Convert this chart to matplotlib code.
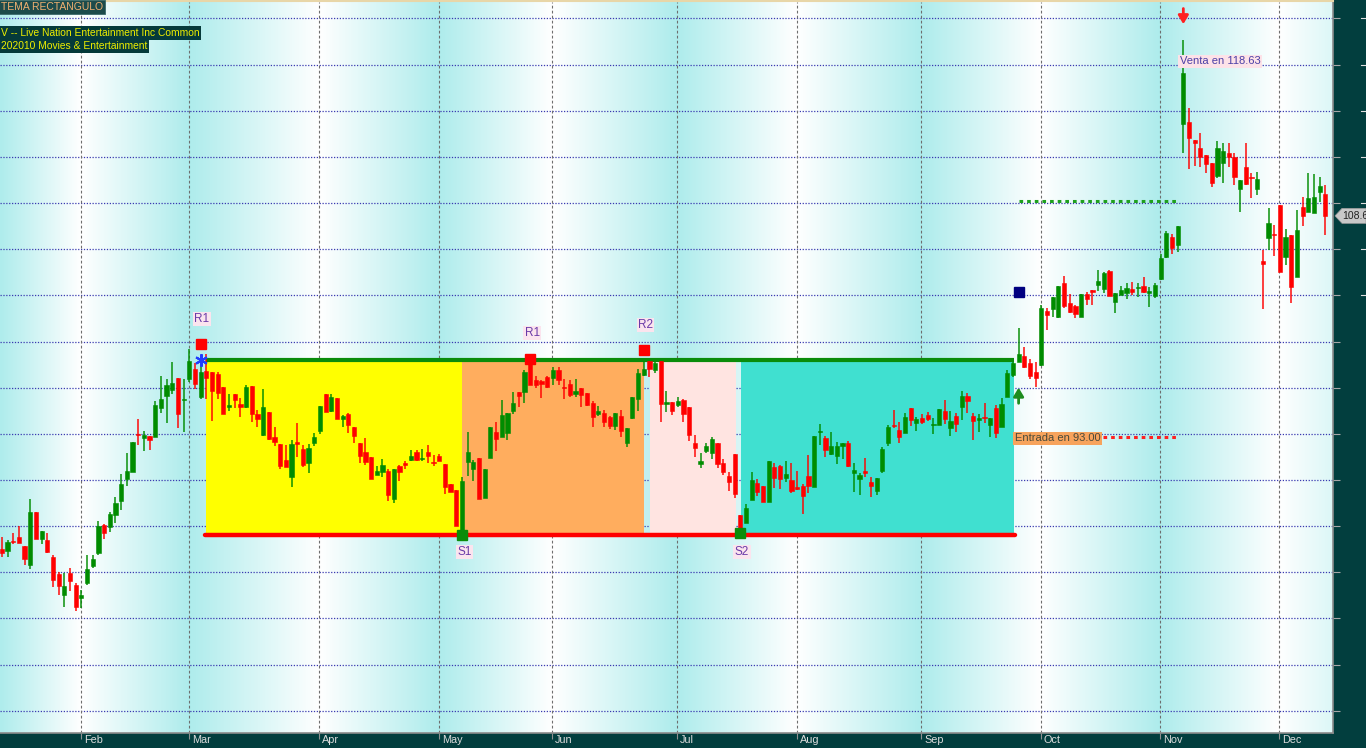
import numpy as np
import matplotlib
matplotlib.use('Agg')
import matplotlib.pyplot as plt
from matplotlib import transforms
from matplotlib.colors import LinearSegmentedColormap
from matplotlib.patches import Polygon
from matplotlib.lines import Line2D

plt.rcParams['font.family'] = ['Liberation Sans', 'DejaVu Sans']

# daily bars (one per trading day)
opens = [85.14, 85.00, 85.70, 85.99, 85.35, 84.01, 87.75, 85.84, 85.77, 84.58,
         83.38, 81.90, 83.45, 82.61, 81.69, 82.75, 83.94, 84.86, 86.83, 86.69,
         87.54, 88.52, 90.07, 90.56, 93.24, 92.96, 93.10, 93.03, 95.07, 95.91,
         96.33, 97.18, 95.63, 97.11, 97.81, 95.84, 97.67, 97.60, 97.46, 96.55,
         95.14, 96.05, 95.35, 95.14, 96.62, 94.64, 93.17, 94.78, 93.03, 92.53,
         91.41, 90.21, 92.67, 92.18, 91.19, 92.60, 93.45, 96.05, 94.85, 95.77,
         94.29, 94.64, 93.73, 92.60, 91.97, 91.62, 90.35, 90.56, 90.63, 88.66,
         90.98, 91.19, 91.41, 91.97, 91.48, 91.97, 91.26, 91.69, 91.12, 89.72,
         89.30, 86.20, 91.26, 90.77, 91.55, 88.73, 91.55, 93.38, 93.03, 93.31,
         94.85, 96.19, 96.19, 98.30, 97.04, 96.97, 97.25, 97.18, 97.74, 96.55,
         96.76, 96.05, 96.47, 96.12, 95.42, 94.64, 94.71, 94.43, 93.80, 94.50,
         92.60, 94.36, 95.70, 97.39, 98.37, 97.74, 98.37, 95.35, 95.49, 95.28,
         95.63, 95.14, 92.60, 91.12, 92.04, 91.90, 92.60, 91.19, 90.28, 91.83,
         87.54, 86.97, 88.59, 89.79, 89.58, 88.45, 90.91, 90.98, 90.14, 90.00,
         89.51, 89.58, 90.28, 89.51, 93.38, 92.96, 91.83, 91.69, 92.39, 92.60,
         90.49, 90.07, 90.63, 89.86, 89.23, 90.63, 92.60, 93.87, 93.52, 93.31,
         95.07, 94.01, 94.36, 94.57, 93.87, 93.87, 94.85, 93.66, 94.50, 95.14,
         95.91, 94.50, 94.22, 94.43, 93.87, 95.07, 93.73, 95.84, 97.39, 98.30,
         98.72, 98.23, 97.60, 98.09, 101.90, 102.04, 101.47, 103.88, 102.46, 102.25,
         101.47, 103.09, 103.37, 103.74, 103.44, 104.72, 102.53, 103.02, 103.16, 103.44,
         103.51, 103.65, 103.16, 102.95, 104.16, 105.71, 107.12, 106.55, 115.07, 115.21,
         113.94, 113.38, 112.89, 112.32, 111.41, 112.32, 113.03, 112.75, 110.50, 112.04,
         111.34, 110.50, 105.43, 107.05, 107.33, 109.37, 105.71, 107.26, 104.30, 109.23,
         108.87, 108.80, 110.28, 110.14]

highs = [85.99, 85.77, 86.27, 86.76, 85.35, 88.66, 87.75, 86.41, 86.27, 84.72,
         83.52, 83.45, 83.80, 82.75, 82.25, 84.72, 84.72, 87.11, 86.90, 87.75,
         88.80, 90.42, 91.90, 92.67, 94.29, 93.45, 93.10, 95.56, 97.32, 97.11,
         98.30, 97.18, 97.11, 99.22, 98.23, 98.65, 98.87, 97.60, 97.60, 96.55,
         96.05, 96.05, 95.77, 96.69, 96.62, 94.92, 96.40, 94.78, 93.73, 92.53,
         92.46, 92.81, 94.01, 92.46, 92.53, 93.31, 95.21, 96.05, 96.05, 95.77,
         94.57, 94.71, 93.73, 92.60, 92.96, 91.62, 90.98, 91.48, 90.77, 90.77,
         91.05, 91.34, 92.11, 92.11, 92.18, 92.46, 91.76, 91.83, 91.12, 89.72,
         89.30, 90.21, 93.38, 91.41, 91.55, 90.77, 93.73, 94.08, 95.63, 94.71,
         96.19, 96.19, 97.74, 98.50, 97.32, 97.04, 97.32, 97.95, 97.95, 97.11,
         97.04, 97.11, 96.47, 96.12, 95.56, 95.21, 94.92, 94.50, 94.71, 94.92,
         93.66, 95.84, 97.81, 98.37, 98.37, 98.30, 98.37, 96.26, 95.49, 95.84,
         95.70, 95.14, 93.17, 91.90, 92.60, 93.03, 92.60, 91.48, 90.56, 91.83,
         87.54, 88.31, 90.56, 90.07, 89.58, 91.34, 91.19, 91.05, 91.34, 91.19,
         90.63, 89.72, 91.76, 93.10, 93.94, 93.10, 93.38, 92.67, 92.60, 92.74,
         91.19, 90.49, 91.55, 90.21, 90.14, 92.32, 93.87, 94.92, 94.08, 94.71,
         95.07, 94.43, 94.64, 94.78, 94.36, 94.99, 95.63, 94.85, 94.71, 96.26,
         96.12, 94.71, 94.64, 95.42, 94.36, 95.28, 95.77, 97.74, 98.30, 100.70,
         99.36, 98.51, 98.30, 102.32, 102.11, 102.88, 103.65, 104.37, 103.09, 102.32,
         103.09, 103.23, 103.37, 104.80, 104.65, 104.80, 103.16, 103.65, 103.88, 103.95,
         103.88, 104.30, 103.58, 103.88, 105.92, 107.54, 107.33, 107.89, 120.98, 116.20,
         113.94, 114.44, 112.89, 112.32, 113.87, 113.73, 113.73, 113.03, 111.13, 113.73,
         111.61, 111.68, 106.20, 109.16, 107.96, 109.37, 107.68, 107.26, 109.02, 109.93,
         111.61, 111.55, 111.34, 110.78]

lows = [84.58, 84.58, 85.49, 85.56, 84.01, 83.73, 85.84, 85.49, 84.86, 82.47,
        81.90, 81.06, 82.18, 80.78, 80.99, 82.61, 83.80, 84.72, 85.84, 86.34,
        86.97, 87.89, 89.58, 90.56, 92.46, 92.04, 92.11, 93.03, 94.71, 94.01,
        96.05, 93.66, 93.38, 96.90, 96.40, 95.70, 95.70, 94.15, 95.70, 94.64,
        94.85, 95.07, 94.43, 95.07, 94.08, 93.73, 93.10, 92.81, 92.39, 90.77,
        90.91, 89.51, 91.62, 90.91, 90.49, 92.39, 93.24, 94.78, 94.78, 94.29,
        93.73, 93.31, 92.60, 91.19, 91.05, 90.07, 90.35, 90.21, 88.52, 88.38,
        89.93, 90.77, 91.34, 91.34, 91.34, 91.19, 90.98, 91.34, 89.01, 89.16,
        86.76, 86.10, 90.28, 89.93, 88.66, 88.73, 91.55, 92.04, 93.03, 92.81,
        94.64, 95.14, 95.42, 96.69, 96.47, 95.77, 96.47, 96.69, 96.69, 95.70,
        95.84, 95.84, 95.14, 95.21, 93.73, 94.50, 93.73, 93.59, 93.52, 93.03,
        92.32, 94.29, 94.85, 97.32, 97.25, 97.53, 94.08, 94.78, 94.57, 95.14,
        94.08, 92.74, 91.62, 90.84, 91.90, 91.48, 90.84, 90.35, 89.23, 88.73,
        86.15, 86.97, 88.59, 88.87, 88.45, 88.45, 89.44, 89.37, 89.86, 89.09,
        89.30, 87.61, 89.09, 89.51, 92.46, 91.62, 91.76, 91.12, 91.48, 90.91,
        89.16, 88.94, 90.21, 88.80, 88.94, 90.49, 92.39, 93.66, 92.60, 93.31,
        93.80, 93.45, 93.94, 94.15, 93.24, 93.87, 93.94, 93.10, 93.38, 94.22,
        94.71, 92.81, 93.38, 94.01, 93.03, 92.96, 93.73, 95.84, 97.25, 98.30,
        97.88, 97.11, 96.55, 98.02, 100.56, 101.47, 101.40, 102.11, 101.75, 101.40,
        101.47, 102.32, 102.32, 103.30, 103.16, 102.95, 101.75, 103.02, 102.74, 103.02,
        102.88, 103.16, 102.18, 102.81, 104.09, 105.64, 105.92, 106.06, 113.03, 111.90,
        112.11, 112.04, 111.61, 110.64, 111.27, 110.92, 112.04, 110.78, 108.87, 110.78,
        109.86, 110.07, 102.04, 106.20, 105.78, 104.65, 105.15, 102.46, 104.30, 107.89,
        108.87, 108.80, 109.58, 107.26]

closes = [84.86, 85.63, 85.63, 85.56, 84.44, 87.75, 85.84, 86.41, 84.93, 82.96,
          82.54, 82.54, 82.89, 81.06, 81.90, 83.73, 84.44, 86.76, 86.27, 87.61,
          88.38, 89.72, 90.63, 92.67, 93.17, 93.17, 92.81, 95.28, 95.70, 96.69,
          96.83, 94.64, 95.70, 98.37, 96.76, 97.60, 97.18, 96.26, 96.12, 94.64,
          95.28, 95.63, 95.14, 96.55, 94.64, 94.29, 95.14, 92.88, 92.67, 90.98,
          90.91, 92.53, 92.53, 91.05, 92.25, 93.03, 95.21, 94.78, 95.84, 94.29,
          94.50, 93.87, 93.10, 91.69, 91.26, 90.07, 90.63, 91.05, 88.94, 90.77,
          90.56, 91.05, 91.69, 91.41, 91.55, 91.69, 91.19, 91.34, 89.51, 89.16,
          86.76, 89.93, 91.97, 91.26, 88.66, 90.77, 93.73, 92.88, 94.57, 94.71,
          95.42, 95.91, 97.60, 96.69, 96.69, 96.76, 96.55, 97.74, 97.04, 96.47,
          95.98, 96.26, 95.98, 95.28, 94.43, 94.85, 94.08, 93.80, 94.71, 93.45,
          93.66, 95.84, 97.53, 97.81, 97.81, 98.23, 95.35, 95.49, 94.85, 95.56,
          94.64, 93.17, 92.25, 91.34, 92.39, 92.88, 91.12, 90.56, 89.86, 89.01,
          86.62, 88.03, 90.00, 89.16, 88.45, 91.34, 90.14, 90.07, 90.42, 89.23,
          89.37, 88.87, 89.58, 93.10, 93.45, 92.11, 92.39, 92.39, 92.60, 90.98,
          90.70, 90.35, 90.49, 89.58, 90.14, 92.18, 93.73, 93.80, 93.03, 94.43,
          94.22, 94.29, 94.08, 94.29, 93.94, 94.99, 94.29, 94.15, 93.94, 95.91,
          95.56, 94.15, 94.36, 94.36, 94.36, 93.31, 95.35, 97.53, 98.23, 98.87,
          97.95, 97.32, 97.18, 102.11, 101.61, 102.88, 103.65, 102.25, 101.82, 101.68,
          103.09, 102.74, 103.23, 104.02, 104.58, 102.95, 103.16, 103.37, 103.51, 103.23,
          103.58, 103.23, 103.30, 103.74, 105.64, 107.40, 106.34, 107.89, 118.63, 114.08,
          113.73, 112.75, 112.25, 110.92, 113.38, 113.17, 112.75, 111.34, 111.13, 110.85,
          111.27, 111.20, 105.22, 108.10, 107.26, 104.65, 107.12, 103.58, 107.61, 108.59,
          109.86, 109.93, 110.71, 108.60]

month_labels = ['Feb', 'Mar', 'Apr', 'May', 'Jun', 'Jul', 'Aug', 'Sep', 'Oct', 'Nov', 'Dec']
month_starts = [14, 33, 56, 77, 97, 119, 140, 162, 183, 204, 225]

# rectangle pattern
res_level = 98.45
sup_level = 86.09
zone_starts = [35.85, 81.0, 114.1, 130.1]
zone_ends = [81.0, 113.0, 129.2, 178.2]
zone_colors = ['#ffff00', '#ffad5e', '#ffe4e1', '#40e0d0']

pivot_names = ['R1', 'S1', 'R1', 'R2', 'S2']
pivot_bars = [35, 81, 93, 113, 130]
pivot_prices = [99.57, 86.09, 98.51, 99.15, 86.23]
pivot_label_prices = [101.33, 84.93, 100.35, 100.91, 84.93]
pivot_label_bars = [35.2, 81.4, 93.4, 113.3, 130.3]

entry_bar = 179
entry_price = 93.00
target_price = 109.65
stop_price = 103.23
exit_bar = 208
exit_price = 118.63
last_price = 108.6

W, H = 1366, 748
xmin, xmax = -0.33, 234.35
ymin, ymax = 72.18, 123.66

fig = plt.figure(figsize=(W / 100, H / 100), dpi=100, facecolor='#023e3e')
ax = fig.add_axes([0, 15 / H, 1333 / W, 731 / H])

# background: month gradient bands
bounds = [month_starts[0] - 14.5] + [m - 0.1 for m in month_starts] + [month_starts[-1] + 21.9]
shade = [0, 1, 0, 1, 0, 1, 0, 1, 0, 1, 0, 1, 0]
xs = np.linspace(xmin, xmax, 1500)
t = np.interp(xs, bounds, shade)
cmap = LinearSegmentedColormap.from_list('bg', ['#aeecec', '#ffffff'])
ax.imshow(t[np.newaxis, :], extent=[xmin, xmax, ymin, ymax], aspect='auto',
          cmap=cmap, vmin=0, vmax=1, zorder=0, interpolation='bilinear')

grid_levels = np.arange(73.75, 123.0, 3.25)
for g in grid_levels:
    ax.axhline(g, color='#3a3ab0', lw=0.9, ls=(0, (1, 1.3)), zorder=1)
for m in month_starts:
    ax.axvline(m - 0.1, color='#6e6e6e', lw=0.8, ls=(0, (2.5, 2)), zorder=1)

for s, e, c in zip(zone_starts, zone_ends, zone_colors):
    ax.fill_between([s, e], sup_level, res_level, color=c, lw=0, zorder=2)

ax.plot([zone_starts[0], zone_ends[-1]], [res_level, res_level], color='#0a8c0a', lw=3,
        solid_capstyle='butt', zorder=3)
ax.plot([zone_starts[0] - 0.1, zone_ends[-1] + 0.1], [sup_level, sup_level], color='#ff0000',
        lw=3.2, solid_capstyle='round', zorder=3)

# candles
o = np.array(opens)
h = np.array(highs)
l = np.array(lows)
c = np.array(closes)
idx = np.arange(len(o))
cols = np.where(c >= o, '#008c00', '#ff0000')
ax.vlines(idx, l, h, colors=cols, lw=1.4, alpha=0.75, zorder=4)
ax.bar(idx, np.maximum(np.abs(c - o), 0.07), bottom=np.minimum(o, c), width=0.74,
       color=cols, edgecolor=cols, linewidth=0.4, zorder=5)

# pivots
for name, b, p, lb, lp in zip(pivot_names, pivot_bars, pivot_prices, pivot_label_bars, pivot_label_prices):
    mc = '#ff0000' if name.startswith('R') else '#0a8c0a'
    ax.plot(b, p, 's', color=mc, ms=7.5, zorder=7)
    ax.text(lb, lp, name, ha='center', va='center', fontsize=8.5, color='#6a3aa8', zorder=8,
            bbox=dict(boxstyle='square,pad=0.12', fc='#fbe4ee', ec='none'))

ax.plot(pivot_bars[0], res_level, marker=(6, 2, 0), color='#1f3cff', ms=9, mew=1.5, zorder=8)
ax.plot(entry_bar, stop_price, 's', color='#000080', ms=7.5, zorder=7)

ax.annotate('', xy=(entry_bar, 96.5), xytext=(entry_bar, 95.4),
            arrowprops=dict(arrowstyle='-|>,head_width=0.3,head_length=0.5', color='#1e8c1e',
                            lw=2, mutation_scale=10, shrinkA=0, shrinkB=0), zorder=7)
ax.annotate('', xy=(exit_bar, 122.1), xytext=(exit_bar, 123.2),
            arrowprops=dict(arrowstyle='-|>,head_width=0.3,head_length=0.5', color='#ff2020',
                            lw=2, mutation_scale=10, shrinkA=0, shrinkB=0), zorder=7)

ax.plot([entry_bar + 0.1, 206.7], [target_price, target_price], color='#1ea01e', lw=2.2,
        ls=(0, (1.2, 1.3)), zorder=3)
ax.plot([193.9, 206.7], [entry_price, entry_price], color='#ff2020', lw=2.2,
        ls=(0, (1.2, 1.3)), zorder=3)

ax.text(178.3, 92.92, 'Entrada en %.2f' % entry_price, ha='left', va='center', fontsize=8,
        color='#4a4a3a', zorder=8, bbox=dict(boxstyle='square,pad=0.15', fc='#f7a35c', ec='none'))
ax.text(207.4, 119.47, 'Venta en %.2f' % exit_price, ha='left', va='center', fontsize=8,
        color='#4b3fa6', zorder=8, bbox=dict(boxstyle='square,pad=0.15', fc='#fde2e8', ec='none'))

ax.set_xlim(xmin, xmax)
ax.set_ylim(ymin, ymax)
for side in ['top', 'left']:
    ax.spines[side].set_visible(False)
for side in ['bottom', 'right']:
    ax.spines[side].set_color('#8c8c8c')
    ax.spines[side].set_linewidth(1.2)
ax.set_yticks(grid_levels)
ax.yaxis.tick_right()
ax.tick_params(axis='y', length=5, color='#a8a8a8', labelright=False, direction='out')
ax.set_xticks([m - 0.1 for m in month_starts])
ax.tick_params(axis='x', length=4, color='#909090', labelbottom=False, direction='out')

lab_tr = transforms.offset_copy(ax.get_xaxis_transform(), fig=fig, x=3, y=-2, units='dots')
for m, name in zip(month_starts, month_labels):
    ax.text(m - 0.1, 0, name, transform=lab_tr, ha='left', va='top', fontsize=7.8, color='#dcdcdc')

# header labels
fig.add_artist(Line2D([0, 1333 / W], [1 - 0.8 / H] * 2, color='#e8d6a8', lw=1.5))
fig.text(1 / W, 1 - 7 / H, 'TEMA RECTANGULO', fontsize=7.5, color='#f0b070', va='center', ha='left',
         bbox=dict(boxstyle='square,pad=0.2', fc='#1d4b4b', ec='#3a6a6a', lw=0.6))
fig.text(1 / W, 1 - 33 / H, 'V -- Live Nation Entertainment Inc Common', fontsize=7.4, color='#eeee00',
         va='center', ha='left', bbox=dict(boxstyle='square,pad=0.15', fc='#053a3a', ec='none'))
fig.text(1 / W, 1 - 46 / H, '202010 Movies & Entertainment', fontsize=7.4, color='#eeee00',
         va='center', ha='left', bbox=dict(boxstyle='square,pad=0.15', fc='#053a3a', ec='none'))

# right strip: cut-off price ticks and last price tag
ax_b, ax_h = 15 / H, 731 / H
for g in grid_levels:
    if g >= 103:
        fy = ax_b + (g - ymin) / (ymax - ymin) * ax_h
        fig.add_artist(Line2D([1361 / W, 1366 / W], [fy, fy], color='#e0e0e0', lw=0.8))
ly = ax_b + (last_price - ymin) / (ymax - ymin) * ax_h
tag = [(1335 / W, ly), (1342 / W, ly + 7.5 / H), (1366 / W, ly + 7.5 / H),
       (1366 / W, ly - 7.5 / H), (1342 / W, ly - 7.5 / H)]
fig.add_artist(Polygon(tag, closed=True, transform=fig.transFigure, fc='#c8c8c8', ec='#9a9a9a', lw=0.5))
fig.text(1342 / W, ly, '%.1f' % last_price, fontsize=7.5, color='#202020', va='center', ha='left')

fig.savefig('out.png', dpi=100, facecolor=fig.get_facecolor())
